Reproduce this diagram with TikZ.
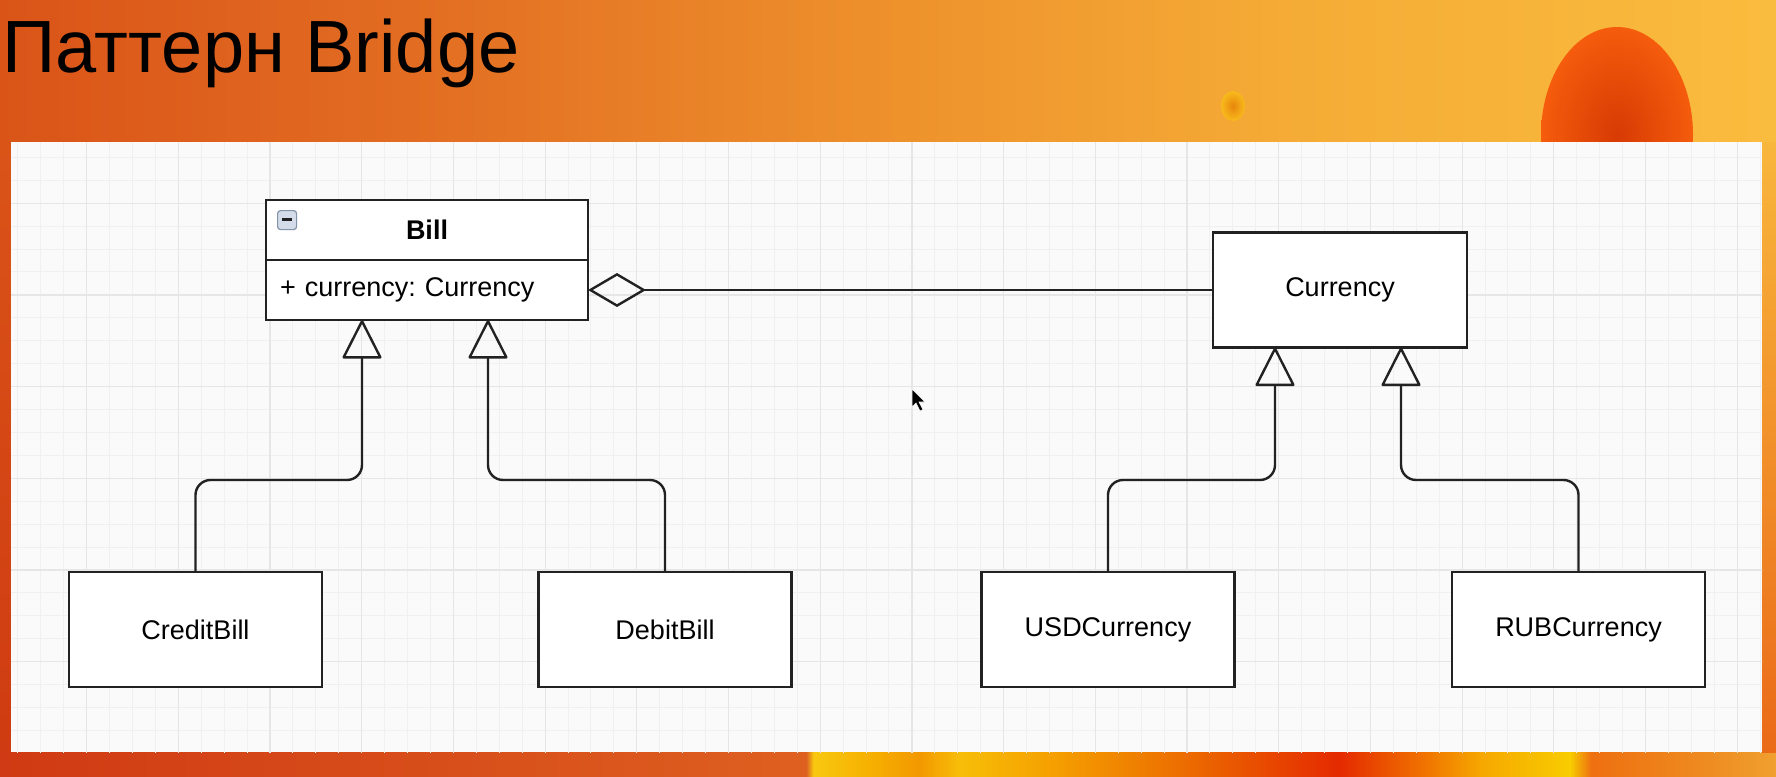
\documentclass[tikz,border=0pt]{standalone}
\usepackage{fontspec}
\setmainfont{Liberation Sans}
\frenchspacing
\usetikzlibrary{positioning,arrows.meta,shadings}
\definecolor{linecol}{HTML}{222222}
\definecolor{panel}{HTML}{FAFAFA}
\definecolor{gridlo}{HTML}{F0F0F0}
\definecolor{gridhi}{HTML}{E6E6E6}
\definecolor{leftA}{HTML}{DA5418}
\definecolor{leftB}{HTML}{CF3B12}
\definecolor{rightA}{HTML}{F8B63C}
\definecolor{rightB}{HTML}{EA6A18}
\definecolor{blobin}{HTML}{D83A04}
\definecolor{blobout}{HTML}{F55C0C}
\definecolor{dotin}{HTML}{E8860C}
\definecolor{dotout}{HTML}{F8BA1C}
\definecolor{btnfill}{HTML}{D3DCE8}
\definecolor{btnline}{HTML}{8493A8}
\pgfdeclarehorizontalshading{slidetop}{100bp}{%
  color(0bp)=(leftA); color(25bp)=(leftA); color(36.3bp)=({rgb,255:red,226;green,108;blue,34});
  color(50.3bp)=({rgb,255:red,238;green,146;blue,44}); color(61.6bp)=({rgb,255:red,245;green,172;blue,54});
  color(75bp)=({rgb,255:red,250;green,188;blue,62}); color(100bp)=({rgb,255:red,250;green,188;blue,62})}
\pgfdeclarehorizontalshading{slidebottom}{100bp}{%
  color(0bp)=({rgb,255:red,208;green,58;blue,20}); color(25bp)=({rgb,255:red,208;green,58;blue,20});
  color(44.7bp)=({rgb,255:red,220;green,90;blue,30}); color(47.7bp)=({rgb,255:red,222;green,96;blue,32});
  color(47.9bp)=({rgb,255:red,248;green,200;blue,16}); color(49.5bp)=({rgb,255:red,246;green,176;blue,0});
  color(50.9bp)=({rgb,255:red,243;green,152;blue,0}); color(52bp)=({rgb,255:red,247;green,190;blue,8});
  color(54.6bp)=({rgb,255:red,245;green,160;blue,0}); color(57.4bp)=({rgb,255:red,238;green,122;blue,0});
  color(60.2bp)=({rgb,255:red,232;green,80;blue,0}); color(62.7bp)=({rgb,255:red,228;green,42;blue,0});
  color(65bp)=({rgb,255:red,240;green,112;blue,0}); color(66.7bp)=({rgb,255:red,246;green,168;blue,0});
  color(69.2bp)=({rgb,255:red,248;green,204;blue,0}); color(69.8bp)=({rgb,255:red,238;green,112;blue,16});
  color(72.9bp)=({rgb,255:red,238;green,138;blue,32}); color(75bp)=({rgb,255:red,240;green,160;blue,48});
  color(100bp)=({rgb,255:red,240;green,160;blue,48})}
\tikzset{%
  classbox/.style={draw=linecol, line width=2.6pt, fill=white, rectangle, inner sep=0pt,
    outer sep=0pt, text=black, font=\fontsize{27}{32}\selectfont},% uml class box
  inherit/.style={draw=linecol, line width=2.4pt, rounded corners=15pt,
    -{Triangle[open, length=40pt, width=40pt, round]}},% generalisation
  aggregate/.style={draw=linecol, line width=2.4pt,
    {Diamond[open, length=58pt, width=34pt]}-},% aggregation
  minbtn/.style={draw=btnline, fill=btnfill, rounded corners=3pt, line width=1.2pt,
    minimum size=19pt, inner sep=0pt},% collapse button
  gridminor/.style={draw=gridlo, line width=1pt},% grid lines
  gridmajor/.style={draw=gridhi, line width=1.2pt}% every 4th line
}

\begin{document}
\begin{tikzpicture}[x=1pt, y=-1pt]
\useasboundingbox (0,0) rectangle (1776,776);

% slide background
\shade[shading=slidetop] (0,0) rectangle (1776,752);
\shade[shading=slidebottom] (0,752) rectangle (1776,776);
\shade[top color=leftA, bottom color=leftB] (0,142) rectangle (11,752);
\shade[top color=rightA, bottom color=rightB] (1762,142) rectangle (1776,752);
\shade[inner color=blobin, outer color=blobout] (1617,135) ellipse [x radius=76, y radius=108];
\shade[inner color=dotin, outer color=dotout] (1233,106) ellipse [x radius=12, y radius=15];

\node[anchor=base west, inner sep=0pt, font=\fontsize{74}{80}\selectfont] (title) at (2,73) {Паттерн Bridge};

% drawing canvas
\fill[panel] (11,142) rectangle (1762,752);
\begin{scope}[shift={(-5.1,111.5)}]
  \clip (16.1,640.5) rectangle (1767.1,30.5);
  \draw[gridminor] (0,660) grid[step=22.925pt] (1790,0);
  \draw[gridmajor] (0,660) grid[step=91.7pt] (1790,0);
\end{scope}

\node[classbox, minimum width=322pt, minimum height=60pt, font=\bfseries\fontsize{27}{32}\selectfont] (billhead) at (427,230) {Bill};
\node[classbox, below=0pt of billhead, minimum height=60pt, text width=294pt, inner xsep=14pt, align=left] (billattr) {+ currency: Currency};
\node[minbtn, anchor=north west] (btn) at ([shift={(11pt,-10pt)}]billhead.north west) {};
\draw[linecol, line width=3pt] ([xshift=-5pt,yshift=1pt]btn.center) -- ([xshift=5pt,yshift=1pt]btn.center);

\node[classbox, minimum width=254pt, minimum height=115pt] (currency) at (1340,290) {Currency};

\node[classbox, minimum width=253pt, minimum height=115pt] (credit) at (195.5,629.5) {CreditBill};
\node[classbox, minimum width=253pt, minimum height=115pt] (debit) at (665,629.5) {DebitBill};
\node[classbox, minimum width=253pt, minimum height=115pt] (usd) at (1108,629.5) {USDCurrency};
\node[classbox, minimum width=253pt, minimum height=115pt] (rub) at (1578.5,629.5) {RUBCurrency};

\draw[aggregate] (billattr.east) -- (currency.west);
\draw[inherit] (credit.north) -- ++(0,-92) -| ([xshift=-65pt]billattr.south);
\draw[inherit] (debit.north) -- ++(0,-92) -| ([xshift=61pt]billattr.south);
\draw[inherit] (usd.north) -- ++(0,-92) -| ([xshift=-65pt]currency.south);
\draw[inherit] (rub.north) -- ++(0,-92) -| ([xshift=61pt]currency.south);

% mouse pointer
\fill[black, draw=white, line width=0.6pt] (912,389) -- ++(0,18) -- ++(4,-4) -- ++(4,8)
  -- ++(3,-1.5) -- ++(-4,-7.5) -- ++(6,0) -- cycle;
\end{tikzpicture}
\end{document}
